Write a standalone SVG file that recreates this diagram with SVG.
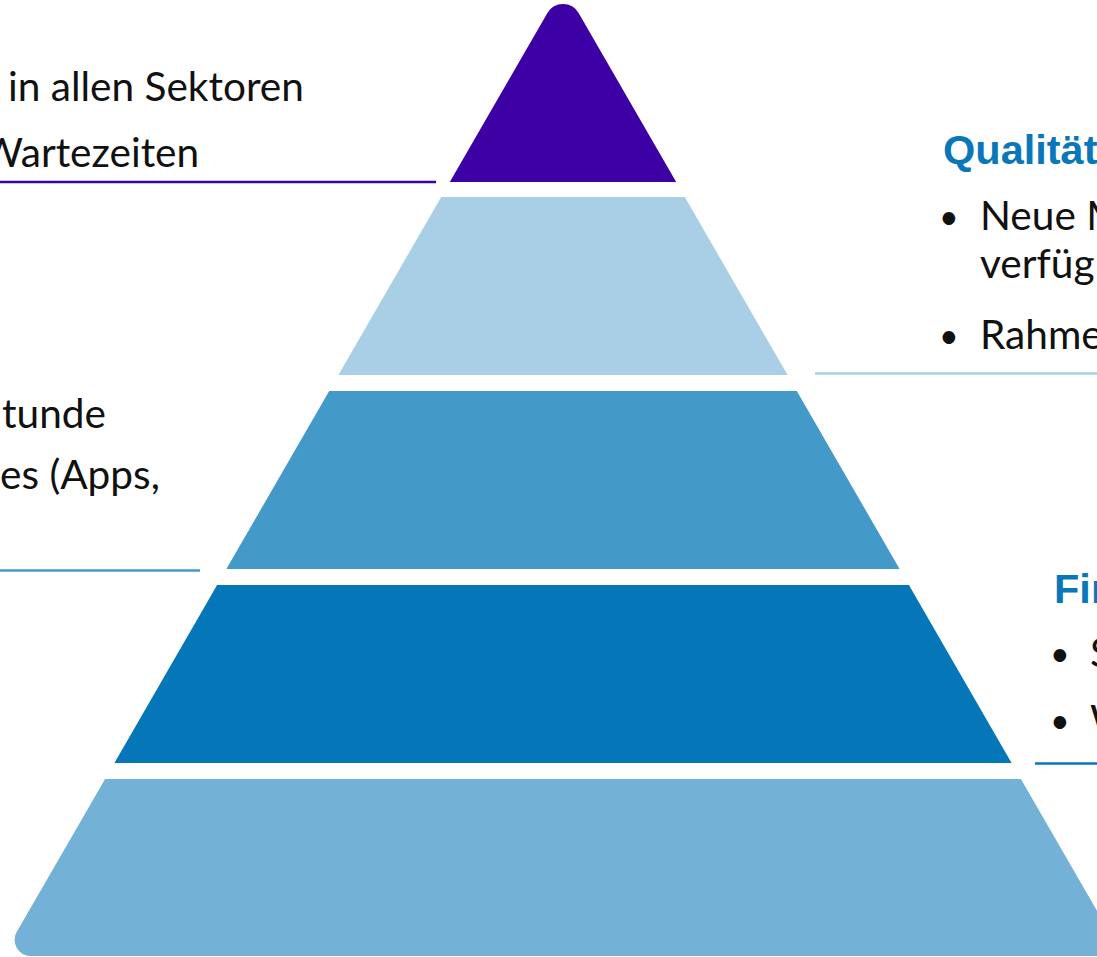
<svg xmlns="http://www.w3.org/2000/svg" width="1097" height="957" viewBox="0 0 1097 957">
  <style>
    .body { font-family: Lato, "Noto Sans", sans-serif; font-size: 40.6px; fill: #111111; }
    .dot { font-family: Lato, "Noto Sans", sans-serif; font-size: 34px; fill: #111111; }
    .head { font-family: "Liberation Sans", Arial, sans-serif; font-size: 41.5px; font-weight: bold; fill: #0A77B8; }
    .rule { stroke-width: 2.6; fill: none; }
  </style>
  <rect width="1097" height="957" fill="#ffffff"/>

  <!-- pyramid tiers, top to bottom -->
  <g id="tier-1">
    <path d="M449.8,182 L547.4,13 A18,18 0 0 1 578.6,13 L676.2,182 Z" fill="#3D00A4"/>
  </g>
  <g id="tier-2">
    <path d="M441.2,197 L684.8,197 L787.6,375 L338.4,375 Z" fill="#A8CFE5"/>
  </g>
  <g id="tier-3">
    <path d="M329.2,391 L796.8,391 L899.6,569 L226.4,569 Z" fill="#4399C8"/>
  </g>
  <g id="tier-4">
    <path d="M217.1,585 L908.9,585 L1011.6,763 L114.4,763 Z" fill="#0576B7"/>
  </g>
  <g id="tier-5">
    <path d="M105.1,779 L1020.9,779 L1123.1,956 L30,956 A16,16 0 0 1 16.4,932.6 Z" fill="#74B1D6"/>
  </g>

  <!-- leader rules -->
  <g id="connectors">
    <line class="rule" x1="0" y1="182" x2="436" y2="182" stroke="#3D00A4"/>
    <line class="rule" x1="0" y1="570.5" x2="200" y2="570.5" stroke="#4499C8"/>
    <line class="rule" x1="815" y1="373.5" x2="1097" y2="373.5" stroke="#A8CFE5"/>
    <line class="rule" x1="1035" y1="763.5" x2="1097" y2="763.5" stroke="#0677B7"/>
  </g>

  <!-- left captions -->
  <g id="label-top-left">
    <text class="body" x="8" y="101">in allen Sektoren</text>
    <text class="body" x="-19" y="167">Wartezeiten</text>
  </g>
  <g id="label-mid-left">
    <text class="body" x="2" y="428">tunde</text>
    <text class="body" x="0" y="489">es (Apps,</text>
  </g>

  <!-- right captions -->
  <g id="label-quality">
    <text class="head" x="943" y="164">Qualität</text>
    <text class="dot" x="939" y="229">•</text>
    <text class="body" x="980" y="230">Neue M</text>
    <text class="body" x="980" y="278">verfügl</text>
    <text class="dot" x="939" y="348">•</text>
    <text class="body" x="980" y="349">Rahme</text>
  </g>
  <g id="label-finance">
    <text class="head" x="1054" y="603">Fin</text>
    <text class="dot" x="1050" y="666">•</text>
    <text class="body" x="1090" y="667">S</text>
    <text class="dot" x="1050" y="733">•</text>
    <text class="body" x="1090" y="734">W</text>
  </g>
</svg>
